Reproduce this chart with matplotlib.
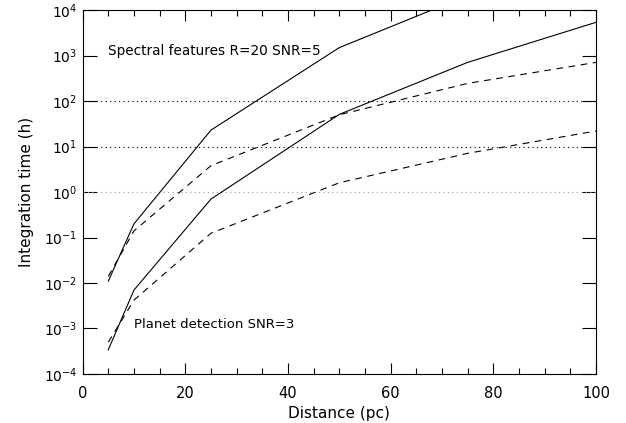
import matplotlib
matplotlib.use("Agg")
import matplotlib.pyplot as plt
from matplotlib.ticker import MultipleLocator, FixedLocator, NullLocator

distance = [5, 10, 25, 50, 75, 100]
spec_solid = [0.011, 0.2, 23, 1500, 2.1e4, 1.6e5]
spec_dashed = [0.014, 0.14, 3.8, 50, 245, 710]
det_solid = [3.4e-4, 7e-3, 0.7, 51, 710, 5400]
det_dashed = [5e-4, 4.2e-3, 0.124, 1.6, 7.1, 22]
ref_levels = [1, 10, 100]
ref_colors = ['#999999', 'black', 'black']
ytick_vals = [1e-4, 1e-3, 1e-2, 1e-1, 1e0, 1e1, 1e2, 1e3, 1e4]
ytick_labels = [r'$10^{-4}$', r'$10^{-3}$', r'$10^{-2}$', r'$10^{-1}$', r'$10^{0}$',
                r'$10^{1}$', r'$10^{2}$', r'$10^{3}$', r'$10^{4}$']

plt.rcParams['font.family'] = ['DejaVu Sans']
plt.rcParams['mathtext.fontset'] = 'dejavusans'

fig = plt.figure(figsize=(6.26, 4.23), dpi=100)
ax = fig.add_axes([0.132, 0.116, 0.820, 0.860])

for lvl, c in zip(ref_levels, ref_colors):
    ax.axhline(lvl, color=c, lw=0.8, ls=(0, (1, 3)))

ax.plot(distance, spec_solid, color='black', lw=0.8)
ax.plot(distance, spec_dashed, color='black', lw=0.8, ls=(0, (6, 5)))
ax.plot(distance, det_solid, color='black', lw=0.8)
ax.plot(distance, det_dashed, color='black', lw=0.8, ls=(0, (6, 5)))

ax.set_yscale('log')
ax.set_xlim(0, 100)
ax.set_ylim(1e-4, 1e4)
ax.yaxis.set_major_locator(FixedLocator(ytick_vals))
ax.yaxis.set_minor_locator(NullLocator())
ax.set_yticklabels(ytick_labels)
ax.xaxis.set_major_locator(MultipleLocator(20))
ax.xaxis.set_minor_locator(MultipleLocator(5))

ax.tick_params(which='both', direction='in', top=True, right=True, labelsize=10.5, width=0.8)
ax.tick_params(which='major', length=8, pad=9)
ax.tick_params(axis='y', which='major', length=10, pad=4, labelsize=10)
ax.tick_params(which='minor', length=4)
for s in ax.spines.values():
    s.set_linewidth(0.8)

ax.set_xlabel('Distance (pc)', fontsize=11, labelpad=3)
ax.set_ylabel('Integration time (h)', fontsize=11, labelpad=7)

ax.text(4.9, 10**3.1, 'Spectral features R=20 SNR=5', fontsize=9.8, va='center', ha='left')
ax.text(10, 10**-2.92, 'Planet detection SNR=3', fontsize=9.5, va='center', ha='left')

fig.savefig('out.png', dpi=100)
